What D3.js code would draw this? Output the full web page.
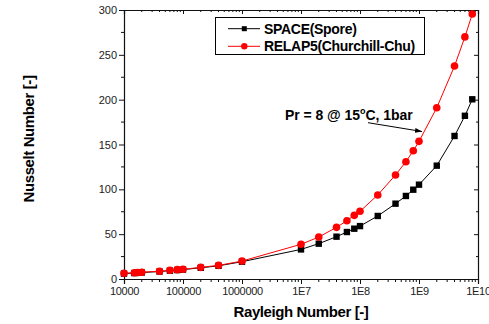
<!DOCTYPE html>
<html><head><meta charset="utf-8">
<script src="https://cdn.jsdelivr.net/npm/d3@7"></script>
<style>body{margin:0;background:#fff}svg{display:block}text{font-family:"Liberation Sans",Arial,sans-serif}</style>
</head><body><svg id="c" width="489" height="324"></svg>
<script>
const rayleigh = [1e4,1.5e4,1.7e4,2e4,4e4,6e4,8e4,1e5,2e5,4e5,1e6,1e7,2e7,4e7,6e7,8e7,1e8,2e8,4e8,6e8,8e8,1e9,2e9,4e9,6e9,8e9];
const spaceNu  = [6.0,6.6,6.9,7.2,8.3,9.3,10.0,10.5,12.5,14.7,19.3,33.0,39.4,47.2,52.4,56.1,59.0,70.3,84.0,92.6,99.6,105.2,126.4,159.5,182.0,200.4];
const relapNu  = [6.4,7.0,7.3,7.6,8.6,9.7,10.4,10.8,13.0,15.2,20.0,38.7,46.8,57.6,65.0,71.0,75.5,93.7,116.0,130.8,143.0,153.5,191.0,237.5,270.0,295.5];
const xTickVals = [1e4,1e5,1e6,1e7,1e8,1e9,1e10];
const xTickLabels = ["10000","100000","1000000","1E7","1E8","1E9","1E10"];
const yTickVals = [0,50,100,150,200,250,300];
const seriesNames = ["SPACE(Spore)","RELAP5(Churchill-Chu)"];

const svg = d3.select("#c");
const L=124, R=478, T=10, B=279;
const x = d3.scaleLog().domain([1e4,1e10]).range([L,R]);
const y = d3.scaleLinear().domain([0,300]).range([B,T]);
const ink="#111";

const minorX=[];
for(let e=4;e<10;e++) for(let m=2;m<=9;m++) minorX.push(m*Math.pow(10,e));
const minorY=d3.range(25,300,50);

const g=svg.append("g");
const xb=g.append("g").attr("transform",`translate(0,${B})`)
  .call(d3.axisBottom(x).tickValues(xTickVals).tickFormat((d,i)=>xTickLabels[i]).tickSize(5).tickPadding(3));
xb.append("g").selectAll("line").data(minorX).join("line")
  .attr("x1",d=>x(d)).attr("x2",d=>x(d)).attr("y1",0).attr("y2",3).attr("stroke",ink);
const xt=g.append("g").attr("transform",`translate(0,${T})`)
  .call(d3.axisTop(x).tickValues(xTickVals).tickFormat("").tickSize(-4));
xt.append("g").selectAll("line").data(minorX).join("line")
  .attr("x1",d=>x(d)).attr("x2",d=>x(d)).attr("y1",0).attr("y2",2).attr("stroke",ink);
const yl=g.append("g").attr("transform",`translate(${L},0)`)
  .call(d3.axisLeft(y).tickValues(yTickVals).tickSize(5).tickPadding(2));
yl.append("g").selectAll("line").data(minorY).join("line")
  .attr("y1",d=>y(d)).attr("y2",d=>y(d)).attr("x1",0).attr("x2",-3).attr("stroke",ink);
const yr=g.append("g").attr("transform",`translate(${R},0)`)
  .call(d3.axisRight(y).tickValues(yTickVals).tickFormat("").tickSize(-4));
yr.append("g").selectAll("line").data(minorY).join("line")
  .attr("y1",d=>y(d)).attr("y2",d=>y(d)).attr("x1",0).attr("x2",-2).attr("stroke",ink);

g.selectAll(".domain").attr("stroke",ink).attr("stroke-width",1.2);
g.selectAll(".tick line").attr("stroke",ink);
g.selectAll(".tick text").attr("font-size",11).attr("fill","#222").attr("font-family","Liberation Sans, Arial, sans-serif");
xb.selectAll(".tick text").attr("letter-spacing","-0.3");

const line=(vals)=>d3.line().x((d,i)=>x(rayleigh[i])).y(d=>y(d))(vals);
svg.append("path").attr("d",line(spaceNu)).attr("fill","none").attr("stroke","#000").attr("stroke-width",1);
svg.append("path").attr("d",line(relapNu)).attr("fill","none").attr("stroke","#f00").attr("stroke-width",1);
svg.append("g").selectAll("rect").data(spaceNu).join("rect")
  .attr("x",(d,i)=>x(rayleigh[i])-3.2).attr("y",d=>y(d)-3.2).attr("width",6.4).attr("height",6.4).attr("fill","#000");
svg.append("g").selectAll("circle").data(relapNu).join("circle")
  .attr("cx",(d,i)=>x(rayleigh[i])).attr("cy",d=>y(d)).attr("r",3.8).attr("fill","#f00");

const lg=svg.append("g");
lg.append("rect").attr("x",215.5).attr("y",17.5).attr("width",209).attr("height",37).attr("fill","#fff").attr("stroke","#000").attr("stroke-width",1);
const rows=[28.7,46.3];
lg.append("line").attr("x1",228).attr("x2",260).attr("y1",rows[0]).attr("y2",rows[0]).attr("stroke","#000");
lg.append("rect").attr("x",244.3-2.5).attr("y",rows[0]-2.5).attr("width",5).attr("height",5).attr("fill","#000");
lg.append("line").attr("x1",228).attr("x2",260).attr("y1",rows[1]).attr("y2",rows[1]).attr("stroke","#f00");
lg.append("circle").attr("cx",244.3).attr("cy",rows[1]).attr("r",3.2).attr("fill","#f00");
seriesNames.forEach((n,i)=>{
  lg.append("text").attr("x",264).attr("y",rows[i]+5).attr("font-size",14).attr("font-weight","bold")
    .attr("letter-spacing","-0.3").attr("fill","#000").text(n);
});

const an=svg.append("text").attr("x",285).attr("y",120).attr("font-size",14).attr("font-weight","bold").attr("letter-spacing","-0.05").attr("fill","#000");
an.append("tspan").text("Pr = 8 @ 15");
an.append("tspan").attr("font-size",9).attr("dy",-6).text("o");
an.append("tspan").attr("dy",6).text("C, 1bar");
svg.append("defs").append("marker").attr("id","ah").attr("viewBox","0 0 10 10").attr("refX",10).attr("refY",5)
  .attr("markerWidth",7).attr("markerHeight",7).attr("orient","auto-start-reverse")
  .append("path").attr("d","M0,1.5 L10,5 L0,8.5 Z").attr("fill","#000");
svg.append("line").attr("x1",368).attr("y1",122.7).attr("x2",422).attr("y2",131.5).attr("stroke","#000").attr("stroke-width",1).attr("marker-end","url(#ah)");

svg.append("text").attr("x",301).attr("y",317).attr("text-anchor","middle").attr("font-size",15).attr("font-weight","bold").attr("letter-spacing","-0.4").text("Rayleigh Number [-]");
svg.append("text").attr("transform","translate(34,139) rotate(-90)").attr("text-anchor","middle").attr("font-size",15).attr("font-weight","bold").attr("letter-spacing","-0.4").text("Nusselt Number [-]");
</script></body></html>
